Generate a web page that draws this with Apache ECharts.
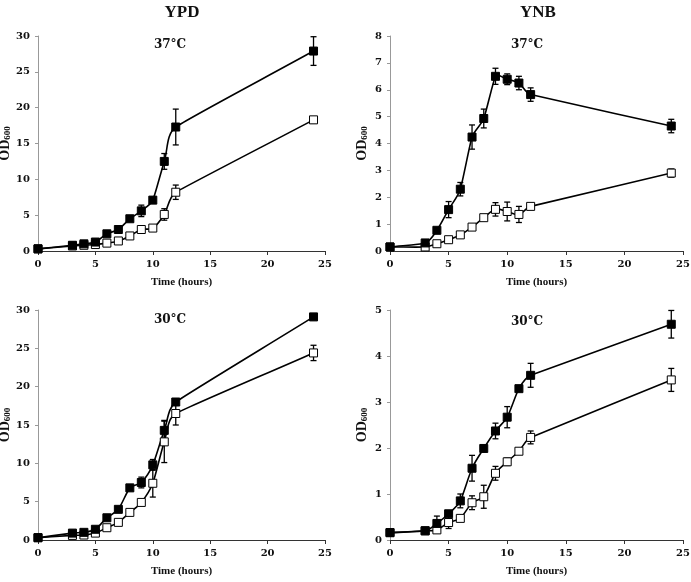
<!DOCTYPE html>
<html>
<head>
<meta charset="utf-8">
<script src="https://cdn.jsdelivr.net/npm/echarts@6/dist/echarts.min.js"></script>
<style>html,body{margin:0;padding:0;background:#fff;}#c{width:691px;height:582px;}</style>
</head>
<body>
<div id="c"></div>
<script>
// ---- data ----
const times = [0, 3, 4, 5, 6, 7, 8, 9, 10, 11, 12, 24];

const ypd37Filled    = [0.3, 0.8, 1.0, 1.25, 2.4, 3.0, 4.5, 5.6, 7.1, 12.5, 17.3, 27.9];
const ypd37FilledErr = [0, 0, 0, 0, 0.2, 0.2, 0.3, 0.8, 0.4, 1.1, 2.5, 2.0];
const ypd37Open      = [0.3, 0.7, 0.8, 0.9, 1.1, 1.4, 2.1, 3.0, 3.2, 5.1, 8.2, 18.3];
const ypd37OpenErr   = [0, 0, 0, 0, 0, 0, 0.2, 0.3, 0.3, 0.8, 1.0, 0.4];

const ynb37Filled    = [0.15, 0.3, 0.77, 1.54, 2.3, 4.24, 4.93, 6.5, 6.39, 6.25, 5.82, 4.65];
const ynb37FilledErr = [0, 0, 0.1, 0.3, 0.25, 0.45, 0.35, 0.3, 0.2, 0.25, 0.25, 0.25];
const ynb37Open      = [0.15, 0.15, 0.27, 0.42, 0.6, 0.89, 1.24, 1.55, 1.47, 1.36, 1.66, 2.9];
const ynb37OpenErr   = [0, 0, 0, 0.05, 0.1, 0.05, 0.05, 0.25, 0.35, 0.3, 0.05, 0.15];

const ypd30Filled    = [0.3, 0.9, 1.0, 1.4, 2.9, 4.0, 6.8, 7.5, 9.8, 14.3, 18.0, 29.1];
const ypd30FilledErr = [0, 0, 0, 0, 0.2, 0.2, 0.3, 0.7, 0.7, 1.3, 0.3, 0.2];
const ypd30Open      = [0.3, 0.6, 0.65, 0.9, 1.6, 2.3, 3.6, 4.9, 7.4, 12.8, 16.5, 24.4];
const ypd30OpenErr   = [0, 0, 0, 0, 0.2, 0.2, 0.2, 0.3, 1.8, 2.7, 1.5, 1.0];

const ynb30Filled    = [0.16, 0.2, 0.36, 0.57, 0.85, 1.56, 1.99, 2.37, 2.67, 3.29, 3.58, 4.69];
const ynb30FilledErr = [0, 0, 0.16, 0.05, 0.15, 0.28, 0.05, 0.17, 0.23, 0.05, 0.26, 0.3];
const ynb30Open      = [0.16, 0.2, 0.22, 0.38, 0.47, 0.81, 0.94, 1.45, 1.7, 1.93, 2.23, 3.48];
const ynb30OpenErr   = [0, 0, 0, 0.13, 0, 0.15, 0.25, 0.15, 0.08, 0.04, 0.14, 0.25];

const xTicks = [0, 5, 10, 15, 20, 25];
const yMax = [30, 8, 30, 5];
const yStep = [5, 1, 5, 1];
const mediaTitles = ['YPD', 'YNB'];
const tempLabels = ['37°C', '37°C', '30°C', '30°C'];
const xTitle = 'Time (hours)';

// ---- build ----
const FONT = '"Liberation Serif", "DejaVu Serif", serif';
const FONT2 = '"DejaVu Serif", "Liberation Serif", serif';
const panels = [
  {f: ypd37Filled, fe: ypd37FilledErr, o: ypd37Open, oe: ypd37OpenErr},
  {f: ynb37Filled, fe: ynb37FilledErr, o: ynb37Open, oe: ynb37OpenErr},
  {f: ypd30Filled, fe: ypd30FilledErr, o: ypd30Open, oe: ypd30OpenErr},
  {f: ynb30Filled, fe: ynb30FilledErr, o: ynb30Open, oe: ynb30OpenErr}
];
const gridBase = {containLabel: false, outerBoundsMode: 'none'};
const grids = [
  Object.assign({left: 38, top: 36, width: 287, height: 215}, gridBase),
  Object.assign({left: 390, top: 36, width: 293, height: 215}, gridBase),
  Object.assign({left: 38, top: 310, width: 287, height: 230}, gridBase),
  Object.assign({left: 390, top: 310, width: 293, height: 230}, gridBase)
];

const xAxes = [], yAxes = [], series = [];
panels.forEach((p, i) => {
  xAxes.push({
    gridIndex: i, type: 'value', min: xTicks[0], max: xTicks[xTicks.length - 1], interval: 5,
    name: xTitle, nameLocation: 'middle', nameGap: 26,
    nameTextStyle: {fontFamily: FONT, fontWeight: 'bold', fontSize: 11, color: '#111'},
    axisLine: {lineStyle: {color: '#333', width: 1}},
    axisTick: {show: true, inside: false, length: 4, lineStyle: {color: '#333'}},
    axisLabel: {fontFamily: FONT2, fontWeight: 'bold', fontSize: 10, color: '#111', margin: 8, hideOverlap: false},
    splitLine: {show: false}
  });
  yAxes.push({
    gridIndex: i, type: 'value', min: 0, max: yMax[i], interval: yStep[i],
    name: '{a|OD}{b|600}', nameLocation: 'middle', nameGap: 21, nameRotate: 90,
    nameTextStyle: {
      rich: {
        a: {fontFamily: FONT, fontWeight: 'bold', fontSize: 14, color: '#111'},
        b: {fontFamily: FONT, fontWeight: 'bold', fontSize: 9, color: '#111', padding: [5, 0, 0, 0]}
      }
    },
    axisLine: {show: true, lineStyle: {color: '#999', width: 1}},
    axisTick: {show: true, inside: false, length: 3, lineStyle: {color: '#999'}},
    axisLabel: {fontFamily: FONT2, fontWeight: 'bold', fontSize: 10, color: '#111', margin: 8},
    splitLine: {show: false}
  });

  const errSeries = (vals, errs) => ({
    type: 'custom', xAxisIndex: i, yAxisIndex: i, z: 1, silent: true,
    data: times.map((t, k) => [t, vals[k], errs[k]]),
    renderItem: (params, api) => {
      const x = api.value(0), y = api.value(1), e = api.value(2);
      if (!e) return null;
      const hi = api.coord([x, y + e]);
      const lo = api.coord([x, y - e]);
      const cap = 3;
      const st = {stroke: '#000', lineWidth: 1.3};
      return {type: 'group', children: [
        {type: 'line', shape: {x1: hi[0], y1: hi[1], x2: lo[0], y2: lo[1]}, style: st},
        {type: 'line', shape: {x1: hi[0] - cap, y1: hi[1], x2: hi[0] + cap, y2: hi[1]}, style: st},
        {type: 'line', shape: {x1: lo[0] - cap, y1: lo[1], x2: lo[0] + cap, y2: lo[1]}, style: st}
      ]};
    }
  });
  // smoothed line through the data points (spreadsheet-style), positioned via the axes
  const curveSeries = (vals) => ({
    type: 'custom', xAxisIndex: i, yAxisIndex: i, z: 2, silent: true,
    data: times.map((t, k) => [t, vals[k]]),
    renderItem: (params, api) => {
      const k = params.dataIndex, n = times.length;
      if (k >= n - 1) return null;
      const cl = (j) => Math.max(0, Math.min(n - 1, j));
      const c = (j) => api.coord([times[cl(j)], vals[cl(j)]]);
      const p0 = c(k - 1), p1 = c(k), p2 = c(k + 1), p3 = c(k + 2);
      const len = (a, b) => Math.hypot(b[0] - a[0], b[1] - a[1]);
      const segLen = len(p1, p2);
      const l0 = k > 0 ? len(p0, p1) : segLen;
      const l3 = k + 2 < n ? len(p2, p3) : segLen;
      const tension = 0.33;
      const unit = (a, b) => {
        const dx = b[0] - a[0], dy = b[1] - a[1], l = Math.hypot(dx, dy) || 1;
        return [dx / l, dy / l];
      };
      const d1 = unit(p0, p2), d2 = unit(p1, p3);
      const arm1 = tension * Math.min(segLen, l0);
      const arm2 = tension * Math.min(segLen, l3);
      return {
        type: 'bezierCurve',
        shape: {
          x1: p1[0], y1: p1[1], x2: p2[0], y2: p2[1],
          cpx1: p1[0] + d1[0] * arm1, cpy1: p1[1] + d1[1] * arm1,
          cpx2: p2[0] - d2[0] * arm2, cpy2: p2[1] - d2[1] * arm2
        },
        style: {stroke: '#000', lineWidth: 1.6, fill: null}
      };
    }
  });
  series.push(errSeries(p.f, p.fe));
  series.push(errSeries(p.o, p.oe));
  series.push(curveSeries(p.f));
  series.push(curveSeries(p.o));
  series.push({
    type: 'scatter', name: 'filled', xAxisIndex: i, yAxisIndex: i, z: 4,
    data: times.map((t, k) => [t, p.f[k]]),
    symbol: 'rect', symbolSize: 8,
    itemStyle: {color: '#000', borderColor: '#000', borderWidth: 1, opacity: 1}
  });
  series.push({
    type: 'scatter', name: 'open', xAxisIndex: i, yAxisIndex: i, z: 3,
    data: times.map((t, k) => [t, p.o[k]]),
    symbol: 'rect', symbolSize: 8,
    itemStyle: {color: '#fff', borderColor: '#000', borderWidth: 1, opacity: 1}
  });
});

const gtext = (txt, x, y, size, fam) => ({type: 'text', x: x, y: y,
  style: {text: txt, font: 'bold ' + size + 'px ' + fam, fill: '#111', align: 'center', verticalAlign: 'middle'}});
const graphicEls = [
  gtext(mediaTitles[0], 182, 13, 17, FONT),
  gtext(mediaTitles[1], 538, 13, 17, FONT),
  gtext(tempLabels[0], 170, 45, 12, FONT2),
  gtext(tempLabels[1], 527, 45, 12, FONT2),
  gtext(tempLabels[2], 170, 320, 12, FONT2),
  gtext(tempLabels[3], 527, 322, 12, FONT2)
];

const chart = echarts.init(document.getElementById('c'), null, {renderer: 'canvas'});
chart.setOption({
  animation: false,
  backgroundColor: '#fff',
  grid: grids,
  xAxis: xAxes,
  yAxis: yAxes,
  series: series,
  graphic: graphicEls
});
</script>
</body>
</html>
